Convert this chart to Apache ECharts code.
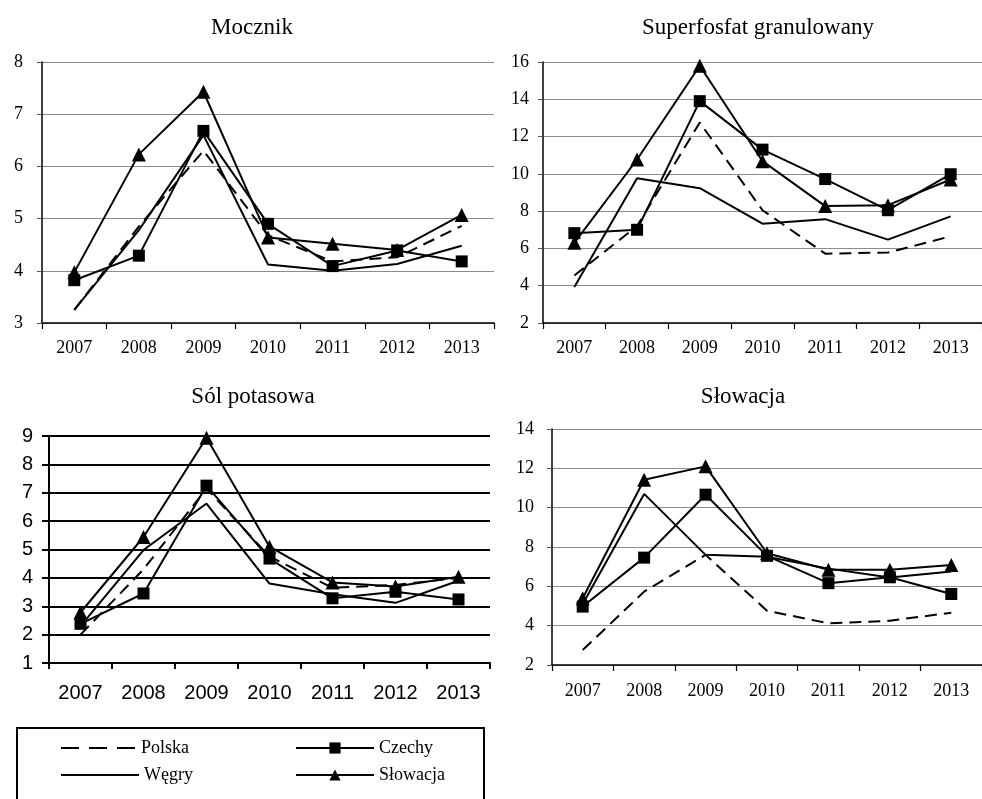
<!DOCTYPE html>
<html>
<head>
<meta charset="utf-8">
<script src="https://cdn.jsdelivr.net/npm/echarts@6.0.0/dist/echarts.min.js"></script>
<style>
  html, body { margin: 0; padding: 0; background: #fff; }
  #chart { width: 982px; height: 799px; }
</style>
</head>
<body>
<div id="chart"></div>
<script>
const years = ['2007', '2008', '2009', '2010', '2011', '2012', '2013'];
const countries = ['Polska', 'Czechy', 'Węgry', 'Słowacja'];
const panelTitles = ['Mocznik', 'Superfosfat granulowany', 'Sól potasowa', 'Słowacja'];

// y axis ranges per panel: [min, max, interval]
const yRanges = [[3, 8, 1], [2, 16, 2], [1, 9, 1], [2, 14, 2]];

// Mocznik
const moczPolska = [3.25, 4.85, 6.3, 4.68, 4.18, 4.26, 4.86];
const moczCzechy = [3.82, 4.29, 6.68, 4.9, 4.09, 4.39, 4.18];
const moczWegry = [3.25, 4.78, 6.6, 4.12, 4.0, 4.13, 4.48];
const moczSlowacja = [3.97, 6.23, 7.43, 4.64, 4.52, 4.4, 5.07];

// Superfosfat granulowany
const superPolska = [4.55, 7.2, 12.75, 8.05, 5.72, 5.78, 6.65];
const superCzechy = [6.82, 7.0, 13.9, 11.3, 9.72, 8.05, 9.98];
const superWegry = [3.93, 9.77, 9.23, 7.33, 7.57, 6.47, 7.72];
const superSlowacja = [6.3, 10.77, 15.8, 10.68, 8.27, 8.32, 9.7];

// Sól potasowa
const solPolska = [2.0, 4.3, 7.15, 4.75, 3.65, 3.75, 4.0];
const solCzechy = [2.38, 3.45, 7.25, 4.68, 3.28, 3.51, 3.24];
const solWegry = [2.3, 4.98, 6.62, 3.8, 3.42, 3.12, 3.9];
const solSlowacja = [2.78, 5.44, 8.94, 5.1, 3.84, 3.7, 4.04];

// Słowacja
const slPolska = [2.76, 5.73, 7.6, 4.76, 4.12, 4.25, 4.66];
const slCzechy = [4.97, 7.46, 10.66, 7.55, 6.16, 6.46, 5.61];
const slWegry = [5.1, 10.7, 7.6, 7.5, 6.9, 6.45, 6.75];
const slSlowacja = [5.39, 11.42, 12.1, 7.68, 6.84, 6.84, 7.09];

const panelData = [
  [moczPolska, moczCzechy, moczWegry, moczSlowacja],
  [superPolska, superCzechy, superWegry, superSlowacja],
  [solPolska, solCzechy, solWegry, solSlowacja],
  [slPolska, slCzechy, slWegry, slSlowacja]
];

const serif = 'Liberation Serif';
const sans = 'Liberation Sans';

const grids = [
  { left: 42, top: 62, width: 452, height: 261 },
  { left: 543, top: 62, width: 442, height: 261 },
  { left: 49, top: 436, width: 441, height: 227 },
  { left: 552, top: 429, width: 443, height: 236 }
];
const titlePos = [[252, 16], [758, 16], [253, 385], [743, 385]];
const fonts = [serif, serif, sans, serif];
const tickFont = [18, 18, 20, 18];
const yMargin = [19, 14, 16, 18];
const xMargin = [16, 16, 20, 17];

const seriesStyle = {
  'Polska': { symbol: 'none', lineStyle: { type: [12, 7] } },
  'Czechy': { symbol: 'rect', symbolSize: 12 },
  'Węgry': { symbol: 'none' },
  'Słowacja': { symbol: 'triangle', symbolSize: 14 }
};

const chart = echarts.init(document.getElementById('chart'));

const titles = [], xAxes = [], yAxes = [], series = [];
for (let p = 0; p < 4; p++) {
  const heavy = p === 2;
  titles.push({
    text: panelTitles[p],
    left: titlePos[p][0],
    top: titlePos[p][1],
    textAlign: 'center',
    padding: 0,
    textStyle: { fontFamily: serif, fontSize: 23, fontWeight: 'normal', color: '#000' }
  });
  xAxes.push({
    gridIndex: p,
    type: 'category',
    data: years,
    boundaryGap: true,
    axisLine: { show: true, lineStyle: { color: '#000', width: heavy ? 2 : 1.5 } },
    axisTick: { show: true, length: 6, interval: 0, lineStyle: { color: '#000', width: heavy ? 2 : 1.2 } },
    axisLabel: { interval: 0, margin: xMargin[p], fontFamily: fonts[p], fontSize: tickFont[p], color: '#000' },
    splitLine: { show: false }
  });
  yAxes.push({
    gridIndex: p,
    type: 'value',
    min: yRanges[p][0],
    max: yRanges[p][1],
    interval: yRanges[p][2],
    axisLine: { show: true, lineStyle: { color: '#000', width: heavy ? 2 : 1.5 } },
    axisTick: { show: true, length: heavy ? 7 : 5, lineStyle: { color: heavy ? '#000' : '#555', width: heavy ? 2 : 1 } },
    axisLabel: { margin: yMargin[p], fontFamily: fonts[p], fontSize: tickFont[p], color: '#000' },
    splitLine: { show: true, lineStyle: { color: heavy ? '#000' : '#8c8c8c', width: heavy ? 2 : 1.2 } }
  });
  countries.forEach((name, c) => {
    const st = seriesStyle[name];
    series.push({
      name: name,
      type: 'line',
      xAxisIndex: p,
      yAxisIndex: p,
      data: panelData[p][c],
      symbol: st.symbol,
      symbolSize: st.symbolSize || 0,
      showSymbol: st.symbol !== 'none',
      color: '#000',
      itemStyle: { color: '#000' },
      lineStyle: Object.assign({ color: '#000', width: 2 }, st.lineStyle || {}),
      emphasis: { disabled: true },
      silent: true
    });
  });
}

// four single-entry legends laid out as the 2x2 boxed key
const legendSpots = [
  { name: 'Polska', left: 60, top: 739, w: 75, marker: false, dash: [18, 10] },
  { name: 'Czechy', left: 295, top: 739, w: 78, marker: true },
  { name: 'Węgry', left: 60, top: 766, w: 78, marker: false },
  { name: 'Słowacja', left: 295, top: 766, w: 78, marker: true }
];
const legends = legendSpots.map(l => ({
  data: [l.name],
  left: l.left,
  top: l.top,
  padding: 0,
  itemWidth: l.w,
  itemHeight: 14,
  selectedMode: false,
  itemStyle: { opacity: l.marker ? 1 : 0 },
  lineStyle: { width: 2, type: l.dash || 'solid' },
  textStyle: { fontFamily: serif, fontSize: 18, color: '#000' }
}));

chart.setOption({
  animation: false,
  backgroundColor: '#fff',
  title: titles,
  legend: legends,
  grid: grids,
  xAxis: xAxes,
  yAxis: yAxes,
  series: series,
  graphic: [{
    type: 'rect',
    shape: { x: 17, y: 728, width: 467, height: 120 },
    style: { fill: 'none', stroke: '#000', lineWidth: 2 },
    silent: true
  }]
});
</script>
</body>
</html>
